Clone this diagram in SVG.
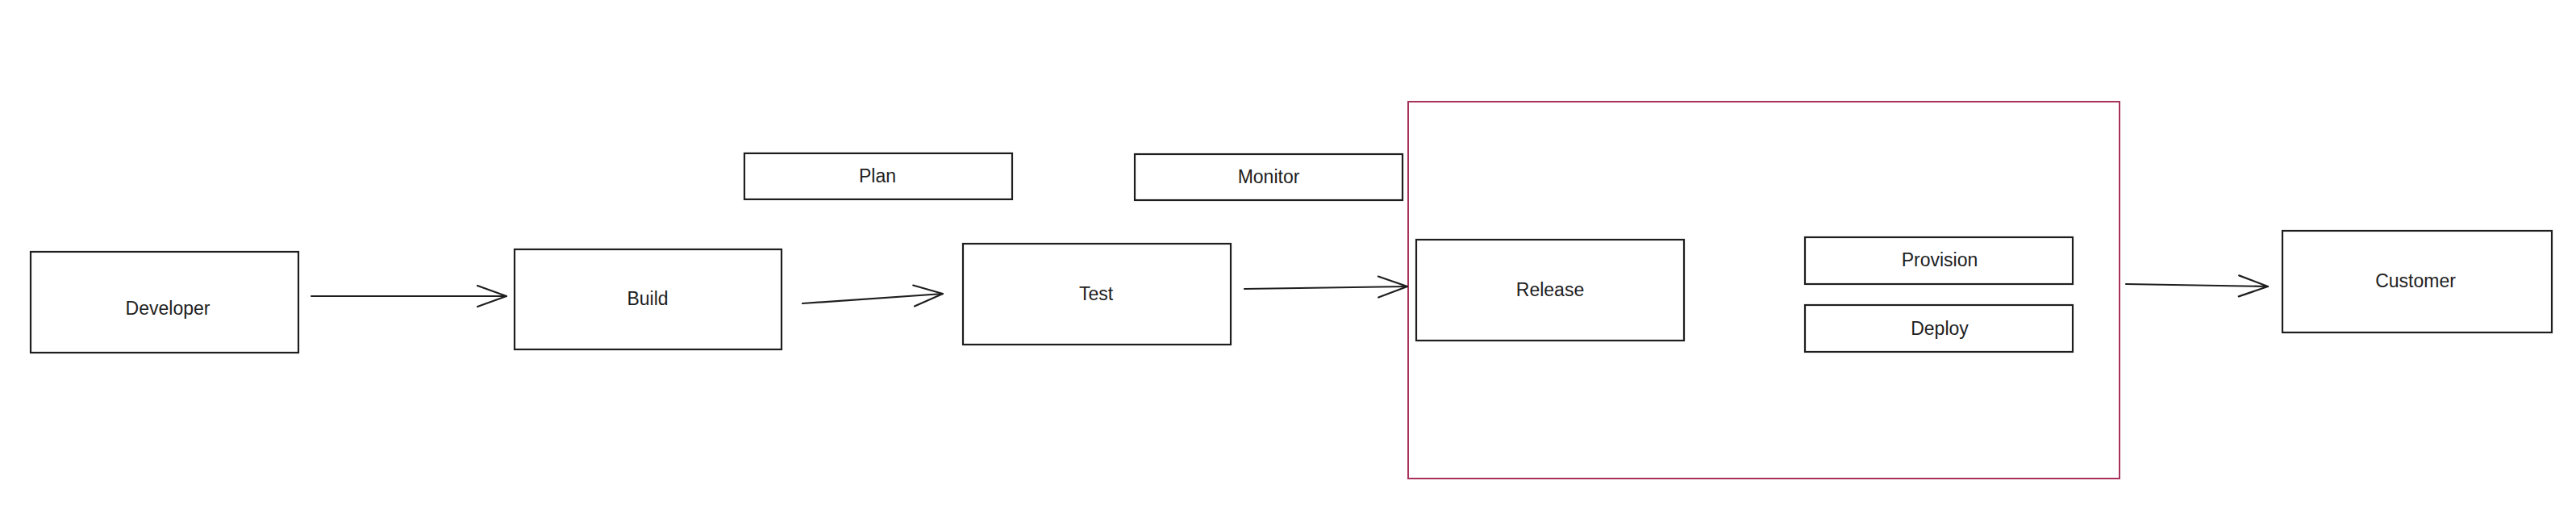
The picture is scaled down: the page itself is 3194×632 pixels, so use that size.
<svg xmlns="http://www.w3.org/2000/svg" width="3194" height="632" viewBox="0 0 3194 632">
  <defs>
    <style>
      .box { fill: #ffffff; stroke: #1e1e1e; stroke-width: 2.2; }
      .frame { fill: none; stroke: #a8325c; stroke-width: 2; }
      .lbl { font-family: "Liberation Sans", "Noto Sans", sans-serif; font-size: 23px; fill: #1e1e1e; text-anchor: middle; dominant-baseline: central; }
      .conn { fill: none; stroke: #1e1e1e; stroke-width: 2.2; stroke-linecap: round; }
    </style>
    <marker id="arrow" markerUnits="userSpaceOnUse" markerWidth="50" markerHeight="40" refX="0" refY="0" viewBox="-40 -20 50 40" orient="auto" overflow="visible">
      <path d="M -36 -13 L 0 0 L -36 13" fill="none" stroke="#1e1e1e" stroke-width="2.2" stroke-linecap="round" stroke-linejoin="round"/>
    </marker>
  </defs>
  <rect width="3194" height="632" fill="#ffffff"/>

  <g id="release-group">
    <rect class="frame" x="1746" y="126" width="882" height="467"/>
  </g>

  <g id="developer">
    <rect class="box" x="38" y="312" width="332" height="125"/>
    <text class="lbl" x="208" y="382">Developer</text>
  </g>
  <g id="build">
    <rect class="box" x="638" y="309" width="331" height="124"/>
    <text class="lbl" x="803" y="370">Build</text>
  </g>
  <g id="plan">
    <rect class="box" x="923" y="190" width="332" height="57"/>
    <text class="lbl" x="1088" y="218">Plan</text>
  </g>
  <g id="monitor">
    <rect class="box" x="1407" y="191" width="332" height="57"/>
    <text class="lbl" x="1573" y="219">Monitor</text>
  </g>
  <g id="test">
    <rect class="box" x="1194" y="302" width="332" height="125"/>
    <text class="lbl" x="1359" y="364">Test</text>
  </g>
  <g id="release">
    <rect class="box" x="1756" y="297" width="332" height="125"/>
    <text class="lbl" x="1922" y="359">Release</text>
  </g>
  <g id="provision">
    <rect class="box" x="2238" y="294" width="332" height="58"/>
    <text class="lbl" x="2405" y="322">Provision</text>
  </g>
  <g id="deploy">
    <rect class="box" x="2238" y="378" width="332" height="58"/>
    <text class="lbl" x="2405" y="407">Deploy</text>
  </g>
  <g id="customer">
    <rect class="box" x="2830" y="286" width="334" height="126"/>
    <text class="lbl" x="2995" y="348">Customer</text>
  </g>

  <g id="connectors">
    <path class="conn" d="M 386 367 L 628 367" marker-end="url(#arrow)"/>
    <path class="conn" d="M 995 376 L 1169 364" marker-end="url(#arrow)"/>
    <path class="conn" d="M 1543 358 L 1745 355" marker-end="url(#arrow)"/>
    <path class="conn" d="M 2636 352 L 2812 355" marker-end="url(#arrow)"/>
  </g>
</svg>
